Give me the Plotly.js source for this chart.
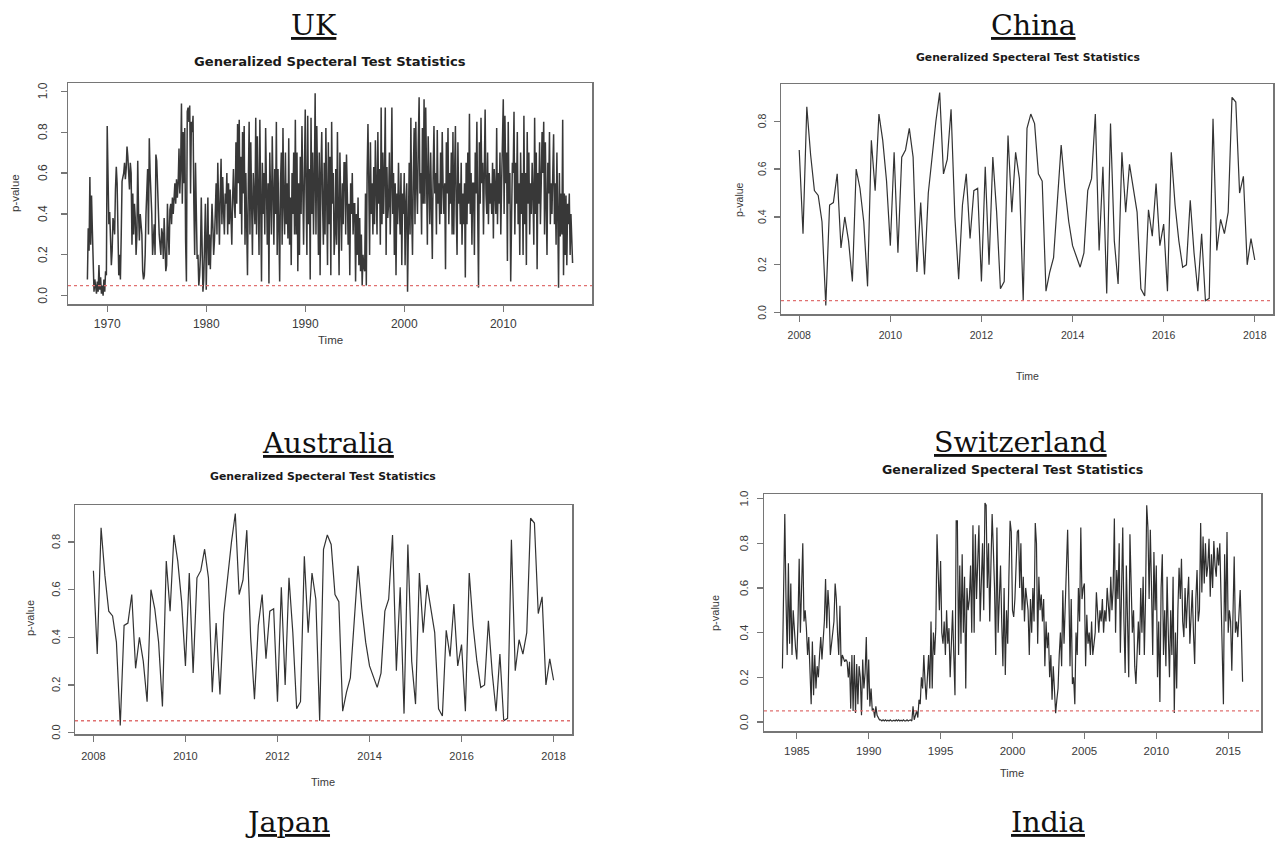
<!DOCTYPE html>
<html>
<head>
<meta charset="utf-8">
<script src="https://cdn.plot.ly/plotly-3.0.1.min.js"></script>
<style>html,body{margin:0;padding:0;background:#fff;}#chart{width:1275px;height:843px;}</style>
</head>
<body>
<div id="chart"></div>
<script>
// ---------------- DATA ----------------
const panelNames = ["UK", "China", "Australia", "Switzerland"];
const extraNames = ["Japan", "India"];
const panelTitle = "Generalized Specteral Test Statistics";
const yLabel = "p-value";
const xLabel = "Time";
const threshold = 0.05;

// monthly series (frequency 12)
const ukStart = 1968;
const ukP = [
0.08,0.33,0.22,0.58,0.25,0.49,0.32,0.12,0.02,0.08,0.05,0.01,
0.07,0.02,0.15,0.03,0.09,0.01,0.05,0.00,0.08,0.02,0.12,0.10,
0.83,0.58,0.35,0.41,0.20,0.15,0.22,0.38,0.35,0.30,0.52,0.63,
0.55,0.35,0.10,0.20,0.08,0.30,0.56,0.58,0.60,0.65,0.57,0.62,
0.73,0.68,0.60,0.52,0.65,0.60,0.25,0.50,0.30,0.45,0.38,0.20,
0.30,0.66,0.40,0.27,0.40,0.35,0.30,0.12,0.08,0.10,0.20,0.40,
0.55,0.62,0.30,0.77,0.60,0.50,0.40,0.20,0.28,0.35,0.20,0.69,
0.66,0.55,0.35,0.30,0.25,0.20,0.33,0.30,0.18,0.38,0.25,0.12,
0.15,0.45,0.30,0.20,0.42,0.45,0.35,0.48,0.40,0.50,0.55,0.45,
0.57,0.48,0.55,0.72,0.50,0.63,0.94,0.45,0.80,0.55,0.82,0.27,
0.07,0.90,0.92,0.85,0.93,0.50,0.85,0.80,0.88,0.45,0.20,0.65,
0.35,0.18,0.20,0.05,0.10,0.20,0.48,0.30,0.02,0.08,0.30,0.45,
0.03,0.20,0.48,0.15,0.30,0.13,0.25,0.45,0.35,0.20,0.27,0.40,
0.55,0.30,0.65,0.45,0.25,0.50,0.67,0.35,0.58,0.42,0.30,0.50,
0.45,0.60,0.30,0.55,0.35,0.52,0.40,0.25,0.48,0.62,0.45,0.38,
0.75,0.45,0.84,0.55,0.86,0.40,0.68,0.30,0.80,0.50,0.83,0.25,
0.60,0.40,0.10,0.55,0.85,0.30,0.75,0.45,0.20,0.60,0.50,0.35,
0.87,0.30,0.78,0.45,0.20,0.86,0.55,0.07,0.65,0.40,0.60,0.30,
0.82,0.45,0.25,0.55,0.06,0.70,0.40,0.30,0.78,0.50,0.25,0.62,
0.40,0.85,0.20,0.62,0.30,0.07,0.55,0.70,0.25,0.82,0.45,0.30,
0.70,0.35,0.55,0.28,0.77,0.25,0.48,0.15,0.60,0.40,0.70,0.30,
0.86,0.30,0.70,0.12,0.55,0.20,0.68,0.40,0.83,0.50,0.25,0.60,
0.91,0.50,0.20,0.88,0.35,0.62,0.08,0.87,0.40,0.70,0.30,0.55,
0.99,0.30,0.83,0.55,0.20,0.70,0.10,0.60,0.80,0.45,0.25,0.65,
0.30,0.82,0.50,0.15,0.75,0.35,0.68,0.10,0.85,0.45,0.60,0.20,
0.30,0.62,0.25,0.80,0.40,0.10,0.70,0.45,0.22,0.55,0.35,0.65,
0.65,0.30,0.69,0.50,0.25,0.45,0.10,0.55,0.40,0.60,0.30,0.45,
0.45,0.07,0.40,0.20,0.48,0.15,0.38,0.12,0.30,0.05,0.20,0.14,
0.12,0.50,0.05,0.60,0.84,0.55,0.20,0.75,0.40,0.55,0.30,0.63,
0.35,0.76,0.50,0.30,0.80,0.45,0.62,0.25,0.92,0.35,0.70,0.40,
0.60,0.92,0.20,0.63,0.38,0.45,0.70,0.30,0.55,0.92,0.40,0.60,
0.20,0.55,0.10,0.50,0.35,0.65,0.45,0.30,0.60,0.15,0.50,0.40,
0.60,0.15,0.45,0.55,0.02,0.50,0.65,0.30,0.87,0.40,0.20,0.60,
0.82,0.35,0.85,0.55,0.40,0.75,0.97,0.50,0.60,0.30,0.82,0.45,
0.96,0.45,0.92,0.60,0.25,0.78,0.55,0.35,0.70,0.50,0.18,0.60,
0.83,0.50,0.60,0.30,0.81,0.45,0.55,0.35,0.70,0.40,0.80,0.55,
0.40,0.55,0.13,0.75,0.50,0.82,0.35,0.60,0.45,0.70,0.30,0.80,
0.30,0.60,0.83,0.40,0.20,0.75,0.45,0.55,0.35,0.65,0.25,0.50,
0.35,0.55,0.09,0.65,0.35,0.70,0.45,0.89,0.40,0.60,0.25,0.55,
0.55,0.20,0.70,0.50,0.85,0.40,0.04,0.75,0.45,0.87,0.55,0.65,
0.30,0.60,0.91,0.50,0.40,0.70,0.35,0.60,0.45,0.55,0.40,0.65,
0.28,0.62,0.50,0.40,0.82,0.35,0.60,0.45,0.70,0.30,0.55,0.75,
0.96,0.40,0.88,0.55,0.70,0.17,0.85,0.45,0.60,0.07,0.50,0.65,
0.60,0.90,0.30,0.65,0.45,0.80,0.35,0.55,0.20,0.70,0.40,0.60,
0.20,0.88,0.35,0.60,0.15,0.80,0.45,0.70,0.30,0.55,0.40,0.65,
0.50,0.25,0.87,0.40,0.70,0.13,0.60,0.45,0.75,0.35,0.55,0.80,
0.60,0.85,0.30,0.75,0.45,0.20,0.65,0.50,0.80,0.35,0.55,0.40,
0.60,0.79,0.35,0.55,0.25,0.70,0.40,0.04,0.60,0.29,0.50,0.30,
0.86,0.10,0.50,0.20,0.49,0.15,0.45,0.35,0.50,0.20,0.40,0.18,
0.16
];

const chinaStart = 2008;
const chinaP = [
0.68,0.33,0.86,0.66,0.51,0.49,0.38,0.03,0.45,0.46,0.58,0.27,
0.40,0.30,0.13,0.60,0.52,0.38,0.11,0.72,0.51,0.83,0.72,0.55,
0.28,0.67,0.25,0.65,0.68,0.77,0.65,0.17,0.46,0.16,0.50,0.65,
0.80,0.92,0.58,0.64,0.85,0.40,0.14,0.45,0.58,0.31,0.51,0.52,
0.13,0.61,0.20,0.65,0.42,0.10,0.13,0.74,0.42,0.67,0.56,0.05,
0.77,0.83,0.79,0.58,0.55,0.09,0.17,0.23,0.45,0.70,0.52,0.38,
0.28,0.23,0.19,0.25,0.51,0.56,0.83,0.26,0.61,0.08,0.79,0.30,
0.12,0.67,0.42,0.62,0.52,0.42,0.10,0.07,0.43,0.32,0.54,0.28,
0.37,0.09,0.67,0.45,0.30,0.19,0.20,0.47,0.25,0.09,0.33,0.05,
0.06,0.81,0.26,0.39,0.33,0.42,0.90,0.88,0.50,0.57,0.20,0.31,
0.22
];

const australiaStart = 2008;
const australiaP = [
0.68,0.33,0.86,0.66,0.51,0.49,0.38,0.03,0.45,0.46,0.58,0.27,
0.40,0.30,0.13,0.60,0.52,0.38,0.11,0.72,0.51,0.83,0.72,0.55,
0.28,0.67,0.25,0.65,0.68,0.77,0.65,0.17,0.46,0.16,0.50,0.65,
0.80,0.92,0.58,0.64,0.85,0.40,0.14,0.45,0.58,0.31,0.51,0.52,
0.13,0.61,0.20,0.65,0.42,0.10,0.13,0.74,0.42,0.67,0.56,0.05,
0.77,0.83,0.79,0.58,0.55,0.09,0.17,0.23,0.45,0.70,0.52,0.38,
0.28,0.23,0.19,0.25,0.51,0.56,0.83,0.26,0.61,0.08,0.79,0.30,
0.12,0.67,0.42,0.62,0.52,0.42,0.10,0.07,0.43,0.32,0.54,0.28,
0.37,0.09,0.67,0.45,0.30,0.19,0.20,0.47,0.25,0.09,0.33,0.05,
0.06,0.81,0.26,0.39,0.33,0.42,0.90,0.88,0.50,0.57,0.20,0.31,
0.22
];

const swissStart = 1984;
const swissP = [
0.24,0.72,0.93,0.55,0.30,0.71,0.35,0.62,0.30,0.50,0.40,0.33,
0.28,0.45,0.73,0.40,0.60,0.80,0.45,0.50,0.42,0.30,0.38,0.20,
0.08,0.36,0.12,0.30,0.15,0.25,0.20,0.30,0.38,0.28,0.35,0.45,
0.64,0.42,0.59,0.50,0.30,0.35,0.40,0.45,0.62,0.55,0.40,0.30,
0.52,0.25,0.30,0.28,0.27,0.28,0.27,0.20,0.27,0.06,0.30,0.05,
0.30,0.04,0.26,0.08,0.25,0.20,0.03,0.28,0.15,0.22,0.38,0.10,
0.28,0.07,0.15,0.05,0.06,0.02,0.07,0.03,0.02,0.01,0.01,0.005,
0.01,0.005,0.01,0.005,0.008,0.005,0.01,0.005,0.005,0.008,0.005,0.01,
0.005,0.01,0.005,0.008,0.005,0.01,0.005,0.005,0.01,0.005,0.008,0.01,
0.005,0.07,0.01,0.03,0.05,0.02,0.10,0.08,0.20,0.15,0.30,0.18,
0.10,0.20,0.30,0.15,0.45,0.15,0.40,0.30,0.42,0.84,0.70,0.50,
0.72,0.40,0.35,0.45,0.30,0.50,0.35,0.42,0.20,0.40,0.50,0.30,
0.12,0.90,0.90,0.30,0.70,0.35,0.75,0.40,0.65,0.15,0.60,0.50,
0.55,0.70,0.40,0.88,0.40,0.84,0.55,0.72,0.88,0.45,0.60,0.80,
0.50,0.98,0.97,0.60,0.80,0.45,0.70,0.93,0.78,0.60,0.30,0.87,
0.40,0.55,0.70,0.45,0.25,0.60,0.21,0.50,0.35,0.65,0.90,0.85,
0.50,0.47,0.55,0.70,0.85,0.86,0.60,0.80,0.50,0.65,0.45,0.60,
0.55,0.50,0.30,0.55,0.40,0.60,0.45,0.89,0.80,0.35,0.65,0.50,
0.57,0.45,0.55,0.25,0.45,0.33,0.40,0.20,0.30,0.10,0.25,0.15,
0.04,0.10,0.15,0.30,0.40,0.25,0.59,0.35,0.50,0.65,0.86,0.60,
0.25,0.55,0.17,0.20,0.08,0.40,0.30,0.60,0.45,0.87,0.55,0.60,
0.62,0.25,0.48,0.35,0.40,0.30,0.45,0.30,0.35,0.40,0.58,0.45,
0.40,0.50,0.45,0.55,0.40,0.50,0.45,0.60,0.50,0.45,0.65,0.50,
0.60,0.91,0.40,0.68,0.55,0.80,0.31,0.60,0.87,0.45,0.22,0.70,
0.50,0.20,0.84,0.60,0.40,0.50,0.25,0.17,0.30,0.45,0.30,0.60,
0.40,0.65,0.30,0.55,0.97,0.87,0.55,0.86,0.60,0.30,0.76,0.50,
0.70,0.20,0.45,0.09,0.60,0.75,0.30,0.50,0.25,0.65,0.40,0.20,
0.50,0.30,0.65,0.04,0.40,0.15,0.50,0.69,0.55,0.73,0.45,0.38,
0.60,0.42,0.55,0.65,0.35,0.50,0.59,0.40,0.26,0.55,0.68,0.45,
0.50,0.89,0.58,0.83,0.62,0.80,0.65,0.70,0.82,0.56,0.75,0.60,
0.81,0.70,0.65,0.78,0.70,0.80,0.55,0.25,0.08,0.75,0.45,0.85,
0.40,0.50,0.45,0.23,0.55,0.74,0.40,0.45,0.38,0.50,0.59,0.40,
0.18
];

// tick labels
const ukXTicks = [1970, 1980, 1990, 2000, 2010];
const chinaXTicks = [2008, 2010, 2012, 2014, 2016, 2018];
const australiaXTicks = [2008, 2010, 2012, 2014, 2016, 2018];
const swissXTicks = [1985, 1990, 1995, 2000, 2005, 2010, 2015];
const yTicksFull = [0.0, 0.2, 0.4, 0.6, 0.8, 1.0];
const yTicksShort = [0.0, 0.2, 0.4, 0.6, 0.8];

// ---------------- DRAW ----------------
function timeAxis(start, vals) { return vals.map((_, i) => start + i / 12); }

const W = 1275, H = 843;
const px = v => v / W;
const py = v => 1 - v / H;
const sans = 'Liberation Sans, Arial, sans-serif';

const traces = [
  {x: timeAxis(ukStart, ukP), y: ukP, xaxis: 'x', yaxis: 'y', type: 'scatter', mode: 'lines', line: {color: '#383838', width: 1.5}, hoverinfo: 'skip'},
  {x: timeAxis(chinaStart, chinaP), y: chinaP, xaxis: 'x2', yaxis: 'y2', type: 'scatter', mode: 'lines', line: {color: '#333', width: 1.2}, hoverinfo: 'skip'},
  {x: timeAxis(australiaStart, australiaP), y: australiaP, xaxis: 'x3', yaxis: 'y3', type: 'scatter', mode: 'lines', line: {color: '#333', width: 1.2}, hoverinfo: 'skip'},
  {x: timeAxis(swissStart, swissP), y: swissP, xaxis: 'x4', yaxis: 'y4', type: 'scatter', mode: 'lines', line: {color: '#2f2f2f', width: 1.2}, hoverinfo: 'skip'}
];

function xAxis(domain, range, ticks, fs, standoff, anchor) {
  return {domain: domain, range: range, anchor: anchor, tickmode: 'array', tickvals: ticks,
    ticktext: ticks.map(String), showgrid: false, zeroline: false, showline: true, mirror: true,
    linecolor: '#767676', linewidth: 1.5, ticks: 'outside', ticklen: 6, tickcolor: '#767676', tickwidth: 1.2,
    tickfont: {family: sans, size: fs, color: '#3a3a3a'}, ticklabelstandoff: standoff};
}
function yAxis(domain, range, ticks, anchor) {
  return {domain: domain, range: range, anchor: anchor, tickmode: 'array', tickvals: ticks,
    showticklabels: false, showgrid: false, zeroline: false, showline: true, mirror: true,
    linecolor: '#767676', linewidth: 1.5, ticks: 'outside', ticklen: 6, tickcolor: '#767676', tickwidth: 1.2};
}

const layout = {
  width: W, height: H, margin: {l: 0, r: 0, t: 0, b: 0}, showlegend: false,
  paper_bgcolor: '#fff', plot_bgcolor: '#fff',
  xaxis:  xAxis([px(68), px(592)],  [1966.04, 2018.96], ukXTicks, 12, 2, 'y'),
  yaxis:  yAxis([py(304), py(83)],  [-0.04, 1.04], yTicksFull, 'x'),
  xaxis2: xAxis([px(781), px(1273)], [2007.6, 2018.4], chinaXTicks, 10.5, 5, 'y2'),
  yaxis2: yAxis([py(314), py(84)],  [-0.0056, 0.9556], yTicksShort, 'x2'),
  xaxis3: xAxis([px(75), px(572)],  [2007.6, 2018.4], australiaXTicks, 11, 5, 'y3'),
  yaxis3: yAxis([py(734), py(505)], [-0.0056, 0.9556], yTicksShort, 'x3'),
  xaxis4: xAxis([px(764), px(1261)], [1982.72, 2017.28], swissXTicks, 11.5, 3, 'y4'),
  yaxis4: yAxis([py(731), py(494)], [-0.04, 1.02], yTicksFull, 'x4'),
  shapes: ['', '2', '3', '4'].map(s => ({type: 'line', xref: 'x' + s + ' domain', yref: 'y' + s,
    x0: 0, x1: 1, y0: threshold, y1: threshold, line: {color: '#e07070', width: 1.3, dash: '3px,3px'}})),
  annotations: []
};

// rotated y tick labels (R style), placed through each y axis scale
const yTickSets = [['', yTicksFull, -25, 12], ['2', yTicksShort, -19, 10.5], ['3', yTicksShort, -19, 11], ['4', yTicksFull, -20, 11.5]];
yTickSets.forEach(([s, ticks, shift, fs]) => ticks.forEach(v => layout.annotations.push({
  text: v.toFixed(1), xref: 'x' + s + ' domain', yref: 'y' + s, x: 0, y: v, xshift: shift,
  xanchor: 'center', yanchor: 'middle', textangle: -90, showarrow: false,
  font: {family: sans, size: fs, color: '#3a3a3a'}})));

const serif = {family: 'DejaVu Serif, serif', size: 28.5, color: '#111', lineposition: 'under'};
const countryPos = [[314, 25], [1033, 25], [328, 443], [1020, 442]];
panelNames.forEach((n, i) => layout.annotations.push({text: n, xref: 'paper', yref: 'paper',
  x: px(countryPos[i][0]), y: py(countryPos[i][1]), xanchor: 'center', yanchor: 'middle', showarrow: false, font: serif}));
const extraPos = [[287, 822], [1048, 822]];
extraNames.forEach((n, i) => layout.annotations.push({text: n, xref: 'paper', yref: 'paper',
  x: px(extraPos[i][0]), y: py(extraPos[i][1]), xanchor: 'center', yanchor: 'middle', showarrow: false, font: serif}));

const subPos = [[330, 62, 13.1], [1028, 57, 10.8], [323, 477, 10.9], [1012, 469, 12.6]];
subPos.forEach(p => layout.annotations.push({text: '<b>' + panelTitle + '</b>', xref: 'paper', yref: 'paper',
  x: px(p[0]), y: py(p[1]), xanchor: 'center', yanchor: 'middle', showarrow: false,
  font: {family: 'DejaVu Sans, sans-serif', size: p[2], color: '#1a1a1a'}}));

const yLabPos = [[15, 193, 11.5], [739, 200, 10.5], [30, 618, 11], [715, 613, 11]];
yLabPos.forEach(p => layout.annotations.push({text: yLabel, xref: 'paper', yref: 'paper', textangle: -90,
  x: px(p[0]), y: py(p[1]), xanchor: 'center', yanchor: 'middle', showarrow: false,
  font: {family: sans, size: p[2], color: '#3a3a3a'}}));

const xLabPos = [[330, 340, 11.5], [1027, 376, 10.5], [323, 782, 11], [1012, 773, 11]];
xLabPos.forEach(p => layout.annotations.push({text: xLabel, xref: 'paper', yref: 'paper',
  x: px(p[0]), y: py(p[1]), xanchor: 'center', yanchor: 'middle', showarrow: false,
  font: {family: sans, size: p[2], color: '#3a3a3a'}}));

Plotly.newPlot('chart', traces, layout, {staticPlot: true, displayModeBar: false});
</script>
</body>
</html>
